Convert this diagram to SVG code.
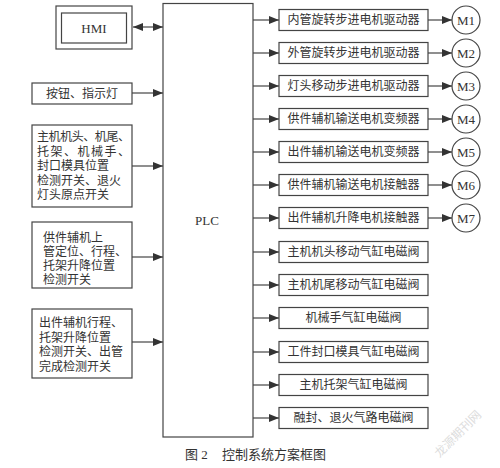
<svg xmlns="http://www.w3.org/2000/svg" width="500" height="468" viewBox="0 0 500 468">
<style>
.b{fill:#fff;stroke:#444;stroke-width:1.2}
.c{stroke:#333;stroke-width:1.1;fill:none}
.t{font-family:"Liberation Serif","Noto Sans CJK SC","Noto Sans CJK JP",serif;font-size:12px;fill:#333;dominant-baseline:central}
.m{text-anchor:middle}
.l{font-family:"Liberation Serif",serif;font-size:13px;fill:#333;dominant-baseline:central;text-anchor:middle}
</style>
<defs>
<marker id="a" viewBox="0 0 10 8" refX="10" refY="4" markerWidth="10" markerHeight="8" markerUnits="userSpaceOnUse" orient="auto-start-reverse"><path d="M0,0 L10,4 L0,8 Z" fill="#333"/></marker>
</defs>
<rect width="500" height="468" fill="#fff"/>
<g id="connectors">
<line class="c" x1="133" y1="27" x2="163" y2="27" marker-start="url(#a)" marker-end="url(#a)"/>
<line class="c" x1="132" y1="93" x2="163" y2="93" marker-end="url(#a)"/>
<line class="c" x1="132" y1="166" x2="163" y2="166" marker-end="url(#a)"/>
<line class="c" x1="132" y1="257" x2="163" y2="257" marker-end="url(#a)"/>
<line class="c" x1="132" y1="342" x2="163" y2="342" marker-end="url(#a)"/>
<line class="c" x1="253" y1="20" x2="279" y2="20" marker-end="url(#a)"/>
<line class="c" x1="253" y1="53" x2="279" y2="53" marker-end="url(#a)"/>
<line class="c" x1="253" y1="86" x2="279" y2="86" marker-end="url(#a)"/>
<line class="c" x1="253" y1="119" x2="279" y2="119" marker-end="url(#a)"/>
<line class="c" x1="253" y1="152" x2="279" y2="152" marker-end="url(#a)"/>
<line class="c" x1="253" y1="185" x2="279" y2="185" marker-end="url(#a)"/>
<line class="c" x1="253" y1="218" x2="279" y2="218" marker-end="url(#a)"/>
<line class="c" x1="253" y1="252" x2="279" y2="252" marker-end="url(#a)"/>
<line class="c" x1="253" y1="285" x2="279" y2="285" marker-end="url(#a)"/>
<line class="c" x1="253" y1="318" x2="279" y2="318" marker-end="url(#a)"/>
<line class="c" x1="253" y1="352" x2="279" y2="352" marker-end="url(#a)"/>
<line class="c" x1="253" y1="385" x2="279" y2="385" marker-end="url(#a)"/>
<line class="c" x1="253" y1="418" x2="279" y2="418" marker-end="url(#a)"/>
<line class="c" x1="428" y1="20" x2="452" y2="20" marker-end="url(#a)"/>
<line class="c" x1="428" y1="53" x2="452" y2="53" marker-end="url(#a)"/>
<line class="c" x1="428" y1="86" x2="452" y2="86" marker-end="url(#a)"/>
<line class="c" x1="428" y1="119" x2="452" y2="119" marker-end="url(#a)"/>
<line class="c" x1="428" y1="152" x2="452" y2="152" marker-end="url(#a)"/>
<line class="c" x1="428" y1="185" x2="452" y2="185" marker-end="url(#a)"/>
<line class="c" x1="428" y1="218" x2="452" y2="218" marker-end="url(#a)"/>
</g>
<g id="plc"><rect class="b" x="163" y="3.5" width="90" height="433.5"/><text class="l" x="207" y="220">PLC</text></g>
<g id="hmi"><rect class="b" x="56" y="6" width="76" height="43"/><rect class="b" x="61.5" y="13" width="65" height="30"/><text class="l" x="94" y="28">HMI</text></g>
<g id="in1"><rect class="b" x="32" y="83" width="100" height="21"/><text class="t m" x="82" y="93.5">按钮、指示灯</text></g>
<g id="in2"><rect class="b" x="32" y="125" width="100" height="82"/>
<text class="t"><tspan x="37" y="137" textLength="93" lengthAdjust="spacing">主机机头、机尾、</tspan><tspan x="37" y="151.5" textLength="93" lengthAdjust="spacing">托架、机械手、</tspan><tspan x="37" y="166">封口模具位置</tspan><tspan x="37" y="180.5">检测开关、退火</tspan><tspan x="37" y="195">灯头原点开关</tspan></text></g>
<g id="in3"><rect class="b" x="32" y="222" width="100" height="66"/>
<text class="t"><tspan x="43" y="238">供件辅机上</tspan><tspan x="43" y="252">管定位、行程、</tspan><tspan x="43" y="266">托架升降位置</tspan><tspan x="43" y="280">检测开关</tspan></text></g>
<g id="in4"><rect class="b" x="32" y="309" width="100" height="69"/>
<text class="t"><tspan x="39" y="323">出件辅机行程、</tspan><tspan x="39" y="337.5">托架升降位置</tspan><tspan x="39" y="352">检测开关、出管</tspan><tspan x="39" y="366.5">完成检测开关</tspan></text></g>
<g id="o1"><rect class="b" x="279" y="9.5" width="149" height="21"/><text class="t m" x="353.5" y="20">内管旋转步进电机驱动器</text></g>
<g id="o2"><rect class="b" x="279" y="42.5" width="149" height="21"/><text class="t m" x="353.5" y="53">外管旋转步进电机驱动器</text></g>
<g id="o3"><rect class="b" x="279" y="75.5" width="149" height="21"/><text class="t m" x="353.5" y="86">灯头移动步进电机驱动器</text></g>
<g id="o4"><rect class="b" x="279" y="108.5" width="149" height="21"/><text class="t m" x="353.5" y="119">供件辅机输送电机变频器</text></g>
<g id="o5"><rect class="b" x="279" y="141.5" width="149" height="21"/><text class="t m" x="353.5" y="152">出件辅机输送电机变频器</text></g>
<g id="o6"><rect class="b" x="279" y="174.5" width="149" height="21"/><text class="t m" x="353.5" y="185">供件辅机输送电机接触器</text></g>
<g id="o7"><rect class="b" x="279" y="207.5" width="149" height="21"/><text class="t m" x="353.5" y="218">出件辅机升降电机接触器</text></g>
<g id="o8"><rect class="b" x="279" y="241.5" width="149" height="21"/><text class="t m" x="353.5" y="252">主机机头移动气缸电磁阀</text></g>
<g id="o9"><rect class="b" x="279" y="274.5" width="149" height="21"/><text class="t m" x="353.5" y="285">主机机尾移动气缸电磁阀</text></g>
<g id="o10"><rect class="b" x="279" y="307.5" width="149" height="21"/><text class="t m" x="353.5" y="318">机械手气缸电磁阀</text></g>
<g id="o11"><rect class="b" x="279" y="341.5" width="149" height="21"/><text class="t m" x="353.5" y="352">工件封口模具气缸电磁阀</text></g>
<g id="o12"><rect class="b" x="279" y="374.5" width="149" height="21"/><text class="t m" x="353.5" y="385">主机托架气缸电磁阀</text></g>
<g id="o13"><rect class="b" x="279" y="407.5" width="149" height="21"/><text class="t m" x="353.5" y="418">融封、退火气路电磁阀</text></g>
<g id="m1"><circle class="b" cx="466" cy="20" r="14"/><text class="l" x="466" y="20">M1</text></g>
<g id="m2"><circle class="b" cx="466" cy="53" r="14"/><text class="l" x="466" y="53">M2</text></g>
<g id="m3"><circle class="b" cx="466" cy="86" r="14"/><text class="l" x="466" y="86">M3</text></g>
<g id="m4"><circle class="b" cx="466" cy="119" r="14"/><text class="l" x="466" y="119">M4</text></g>
<g id="m5"><circle class="b" cx="466" cy="152" r="14"/><text class="l" x="466" y="152">M5</text></g>
<g id="m6"><circle class="b" cx="466" cy="185" r="14"/><text class="l" x="466" y="185">M6</text></g>
<g id="m7"><circle class="b" cx="466" cy="218" r="14"/><text class="l" x="466" y="218">M7</text></g>
<text class="t" x="185" y="454" style="font-size:13px">图 2</text>
<text class="t" x="222" y="454" style="font-size:13px">控制系统方案框图</text>
<text class="t" x="458" y="434" transform="rotate(-45 458 434)" style="font-size:12px;fill:#ddd;text-anchor:middle">龙源期刊网</text>
</svg>
